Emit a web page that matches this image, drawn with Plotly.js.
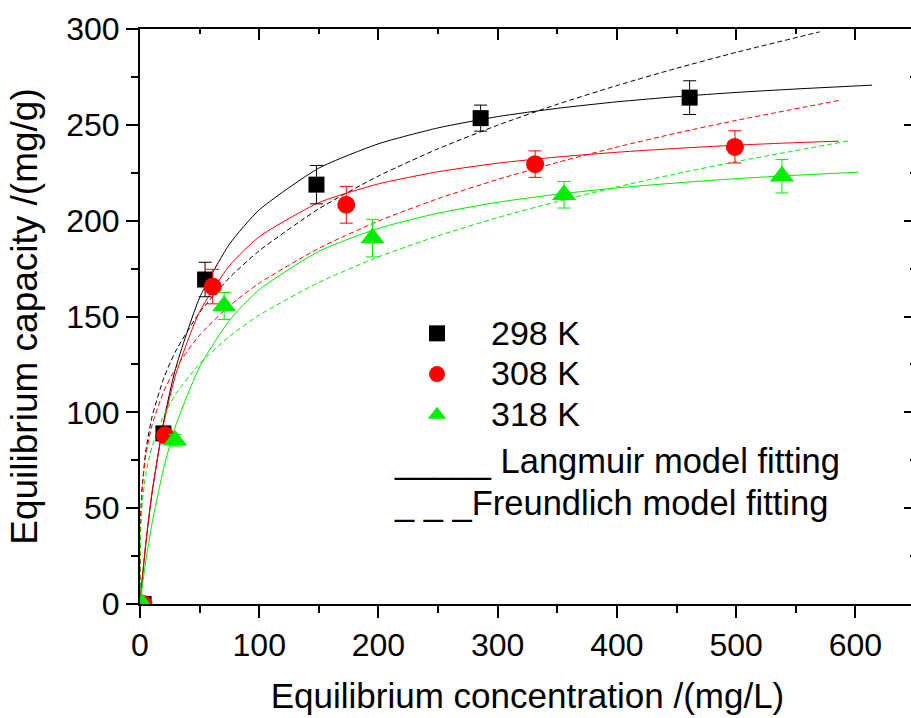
<!DOCTYPE html>
<html>
<head>
<meta charset="utf-8">
<script src="https://cdn.plot.ly/plotly-3.0.1.min.js"></script>
<style>
html, body { margin: 0; padding: 0; overflow: hidden; background: #fff; }
#chart { width: 915px; height: 718px; }
</style>
</head>
<body>
<div id="chart"></div>
<script>
const ce298 = [3, 19.6, 54.6, 148, 285.7, 461];
const qe298 = [0, 89, 169.3, 218.8, 253.5, 264.2];
const err298 = [0, 3, 9, 10, 6.8, 8.8];

const ce308 = [3, 21, 61, 173, 331.4, 499];
const qe308 = [0, 88, 165.6, 208.3, 229.5, 238.5];
const err308 = [0, 3, 9, 9.6, 6.9, 8.4];

const ce318 = [2, 29.4, 70.6, 195, 355.7, 538.4];
const qe318 = [0, 85.4, 155.5, 190.9, 213.5, 223.2];
const err318 = [0, 3, 7, 9.8, 6.9, 8.75];

// ---- fitted curves ----
const langX298 = [0, 2, 5, 10, 20, 30, 50, 75, 100, 150, 200, 250, 300, 350, 400, 450, 500, 550, 614];
const langY298 = [0, 13.7, 31.9, 57.4, 95.7, 123.2, 159.8, 187.7, 205.6, 227.4, 240.1, 248.4, 254.3, 258.6, 262.0, 264.7, 266.9, 268.7, 270.7];
const langX308 = [0, 2, 5, 10, 20, 30, 50, 75, 100, 150, 200, 250, 300, 350, 400, 450, 500, 550, 586];
const langY308 = [0, 14.2, 32.8, 58.0, 94.5, 119.8, 152.5, 176.5, 191.6, 209.4, 219.2, 225.5, 230.0, 233.2, 235.7, 237.7, 239.4, 240.7, 241.5];
const langX318 = [0, 2, 5, 10, 20, 30, 50, 75, 100, 150, 200, 250, 300, 350, 400, 450, 500, 550, 603];
const langY318 = [0, 9.7, 22.8, 41.7, 71.2, 93.2, 123.7, 148.0, 164.0, 184.0, 196.0, 203.9, 209.6, 213.8, 217.1, 219.7, 221.9, 223.7, 225.3];

const freuX298 = [0, 0.1, 0.5, 1, 2, 5, 10, 20, 30, 50, 75, 100, 150, 200, 250, 300, 350, 400, 450, 500, 570];
const freuY298 = [0, 27.2, 42.5, 51.5, 62.4, 80.4, 97.4, 118.0, 132.0, 152.1, 170.2, 184.3, 206.2, 223.3, 237.5, 249.8, 260.7, 270.5, 279.5, 287.8, 298.5];
const freuX308 = [0, 0.1, 0.5, 1, 2, 5, 10, 20, 30, 50, 75, 100, 150, 200, 250, 300, 350, 400, 450, 500, 586];
const freuY308 = [0, 28.8, 43.3, 51.7, 61.7, 78.0, 93.1, 111.0, 123.1, 140.3, 155.5, 167.4, 185.6, 199.8, 211.5, 221.5, 230.4, 238.4, 245.7, 252.3, 262.7];
const freuX318 = [0, 0.1, 0.5, 1, 2, 5, 10, 20, 30, 50, 75, 100, 150, 200, 250, 300, 350, 400, 450, 500, 595];
const freuY318 = [0, 24.2, 37.0, 44.5, 53.4, 68.1, 81.9, 98.4, 109.5, 125.4, 139.6, 150.7, 167.8, 181.1, 192.1, 201.6, 210.0, 217.6, 224.5, 230.8, 241.7];

const seriesNames = ['298 K', '308 K', '318 K'];
const legendTexts = ['_____ Langmuir model fitting', '_ _ _Freundlich model fitting'];
const xTitle = 'Equilibrium concentration /(mg/L)';
const yTitle = 'Equilibrium capacity /(mg/g)';

const C_BLACK = '#000000', C_RED = '#ff0000', C_GREEN = '#00ee00';
const FONT = 'Liberation Sans, Arial, Helvetica, sans-serif';

function curve(x, y, color, dash) {
  return { x: x, y: y, mode: 'lines', type: 'scatter', showlegend: false, hoverinfo: 'skip',
    line: { color: color, width: 1, dash: dash ? '5px,3px' : 'solid', shape: 'spline', smoothing: 0.6 } };
}
function pts(x, y, err, color, symbol, size, name) {
  return { x: x, y: y, mode: 'markers', type: 'scatter',
    name: '<span style="font-size:34px">' + name + '</span>', showlegend: true,
    marker: { color: color, symbol: symbol, size: size },
    error_y: { type: 'data', array: err, visible: true, color: color, thickness: 1, width: 6.5 } };
}

const traces = [
  curve(langX298, langY298, C_BLACK, false),
  curve(freuX298, freuY298, C_BLACK, true),
  curve(langX308, langY308, C_RED, false),
  curve(freuX308, freuY308, C_RED, true),
  curve(langX318, langY318, C_GREEN, false),
  curve(freuX318, freuY318, C_GREEN, true),
  pts(ce298, qe298, err298, C_BLACK, 'square', 16, seriesNames[0]),
  pts(ce308, qe308, err308, C_RED, 'circle', 18, seriesNames[1]),
  pts(ce318, qe318, err318, C_GREEN, 'triangle-up', 21, seriesNames[2]),
  { x: [null], y: [null], xaxis: 'x2', yaxis: 'y2', type: 'scatter', mode: 'markers', showlegend: false, hoverinfo: 'skip' }
];

const axBase = { showgrid: false, zeroline: false, showline: true, linecolor: '#000', linewidth: 2, tickcolor: '#000', tickwidth: 2 };

const layout = {
  width: 915, height: 718,
  margin: { l: 140, r: 0, t: 29, b: 114 },
  paper_bgcolor: '#fff', plot_bgcolor: '#fff',
  font: { family: FONT, color: '#000' },
  showlegend: true,
  legend: { x: (383 - 140) / 775, y: (604 - 308) / 575, xanchor: 'left', yanchor: 'top', bgcolor: 'rgba(0,0,0,0)', borderwidth: 0,
    font: { size: 29, family: FONT }, itemwidth: 98, tracegroupgap: 0 },
  xaxis: Object.assign({}, axBase, { range: [0, 650], dtick: 100, tick0: 0, ticks: 'outside', ticklen: 12,
    tickfont: { size: 32 }, minor: { dtick: 50, ticks: 'outside', ticklen: 7, tickwidth: 2, tickcolor: '#000' },
    title: { text: xTitle, font: { size: 35 }, standoff: 21 } }),
  yaxis: Object.assign({}, axBase, { range: [0, 300], dtick: 50, tick0: 0, ticks: 'outside', ticklen: 12,
    tickfont: { size: 32 }, minor: { dtick: 25, ticks: 'outside', ticklen: 7, tickwidth: 2, tickcolor: '#000' },
    title: { text: yTitle, font: { size: 37 }, standoff: 17 } }),
  xaxis2: Object.assign({}, axBase, { overlaying: 'x', side: 'top', anchor: 'y', range: [0, 650], dtick: 100, tick0: 0,
    ticks: 'inside', ticklen: 11, showticklabels: false,
    minor: { dtick: 50, ticks: 'inside', ticklen: 5, tickwidth: 2, tickcolor: '#000' } }),
  yaxis2: Object.assign({}, axBase, { overlaying: 'y', side: 'right', anchor: 'x', range: [0, 300], dtick: 50, tick0: 0,
    ticks: 'inside', ticklen: 11, showticklabels: false,
    minor: { dtick: 25, ticks: 'inside', ticklen: 5, tickwidth: 2, tickcolor: '#000' } }),
  annotations: [
    { xref: 'paper', yref: 'paper', x: (392 - 140) / 775, y: (604 - 461) / 575, xanchor: 'left', yanchor: 'middle',
      text: legendTexts[0], showarrow: false, font: { size: 34.5, family: FONT, color: '#000' } },
    { xref: 'paper', yref: 'paper', x: (392 - 140) / 775, y: (604 - 503) / 575, xanchor: 'left', yanchor: 'middle',
      text: legendTexts[1], showarrow: false, font: { size: 34.5, family: FONT, color: '#000' } }
  ]
};

Plotly.newPlot('chart', traces, layout, { staticPlot: true, displayModeBar: false });
</script>
</body>
</html>
